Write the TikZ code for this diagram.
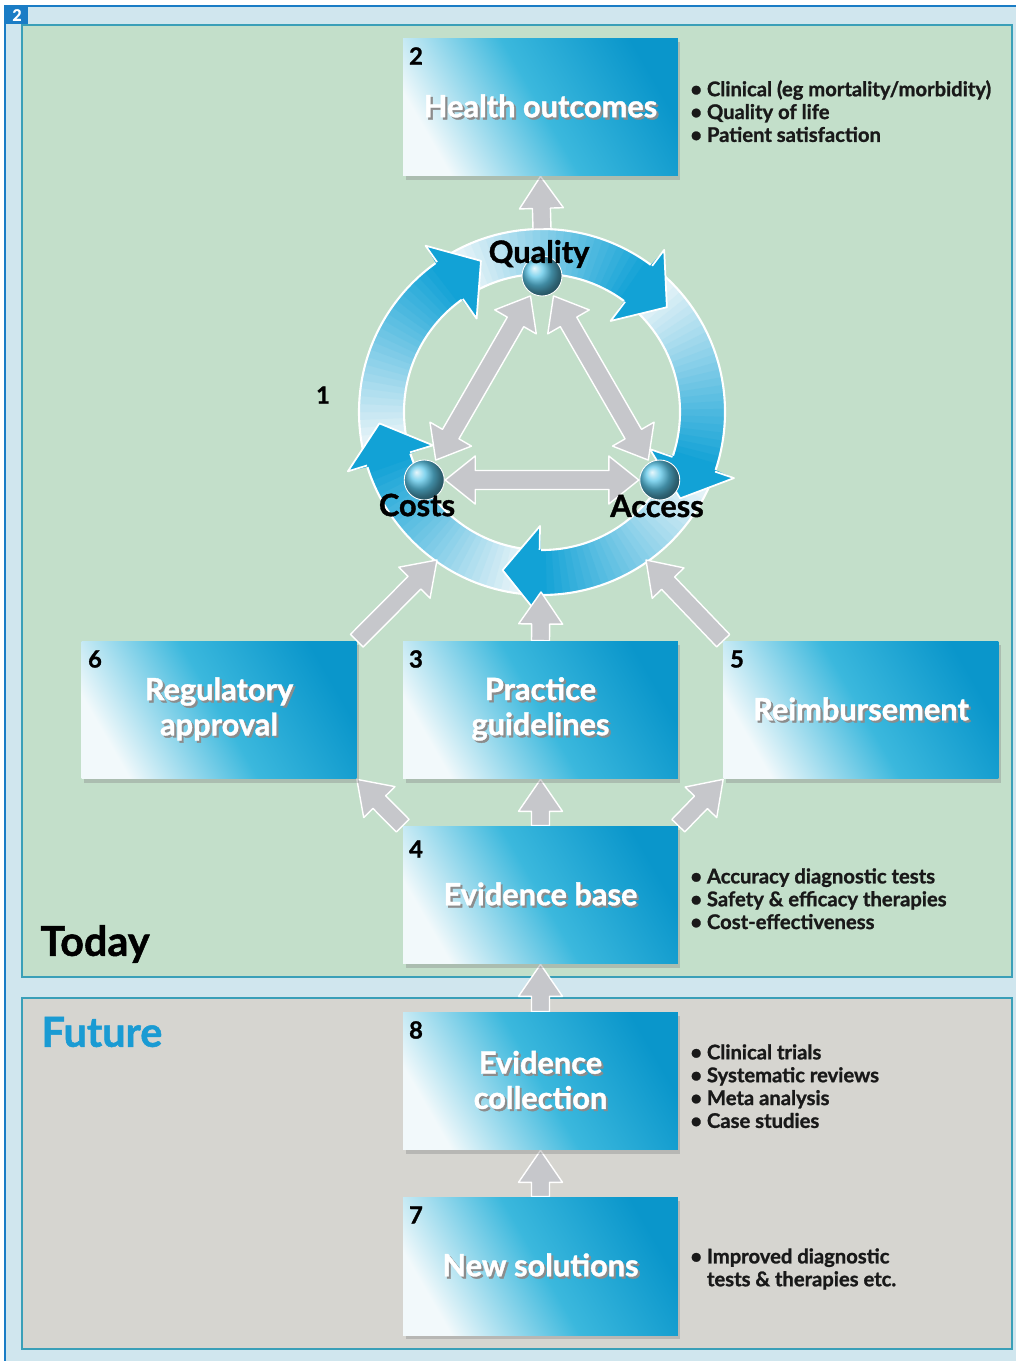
\documentclass[tikz,border=0pt]{standalone}
\usepackage{fontspec}
\setmainfont{Lato}[BoldFeatures={FakeBold=1.2}]
\usetikzlibrary{calc,shadows,backgrounds}

\definecolor{outerbg}{HTML}{D0E6EE}
\definecolor{frameblue}{HTML}{1A7CC5}
\definecolor{todaybg}{HTML}{C3DFCA}
\definecolor{futurebg}{HTML}{D6D5D0}
\definecolor{panelline}{HTML}{3A9FB8}
\definecolor{boxlight}{HTML}{F2F9FB}
\definecolor{boxmid}{HTML}{3BB8DD}
\definecolor{boxdark}{HTML}{0A96CB}
\definecolor{ringblue}{HTML}{12A2D6}
\definecolor{ringlight}{HTML}{E3F2F7}
\definecolor{ballblue}{HTML}{5CC6E8}
\definecolor{arrowgray}{HTML}{C6C7CB}
\definecolor{futureblue}{HTML}{1A9BD3}

\tikzset{
	panel/.style={draw=panelline, line width=1.2pt},
	stepbox/.style={rectangle, minimum width=5.5cm, minimum height=2.76cm, inner sep=0pt,
		left color=boxlight, right color=boxdark, middle color=boxmid, shading angle=120,
		drop shadow={opacity=0.35, shadow xshift=0.05cm, shadow yshift=-0.08cm},
		text=white, font=\fontsize{17.5}{20}\selectfont\bfseries, align=center},
	boxnum/.style={font=\fontsize{13.5}{15}\selectfont\bfseries, text=black},
	bullets/.style={anchor=north west, align=left, inner sep=0pt,
		font=\fontsize{11.5}{13}\selectfont\bfseries, text=black!90},
	ringlabel/.style={font=\fontsize{17.5}{19}\selectfont\bfseries, text=black},
	sphere/.style={circle, minimum size=0.8cm, inner sep=0pt, ball color=ballblue, draw=white, line width=0.5pt},
	blockarrow/.style={fill=arrowgray, draw=white, line width=0.8pt, line join=round},
}

% white text with a dark offset copy behind it
\newcommand\shd[1]{\makebox[0pt][l]{\hspace{1.2pt}\raisebox{-1.2pt}{\color{black!45}#1}}#1}

% wide gray arrow from #1 to #2
\newcommand\grayarrow[2]{%
	\path (#1) coordinate (ga0) (#2) coordinate (ga1);
	\path ($(ga1)!0.64cm!(ga0)$) coordinate (gah);
	\filldraw[blockarrow] ($(ga0)!0.18cm!90:(ga1)$) -- ($(gah)!0.18cm!90:(ga1)$) -- ($(gah)!0.44cm!90:(ga1)$) -- (ga1)
		-- ($(gah)!0.44cm!-90:(ga1)$) -- ($(gah)!0.18cm!-90:(ga1)$) -- ($(ga0)!0.18cm!-90:(ga1)$) -- cycle;
}

% wide gray arrow with two heads
\newcommand\twoarrow[2]{%
	\path (#1) coordinate (ta0) (#2) coordinate (ta1);
	\path ($(ta0)!0.6cm!(ta1)$) coordinate (tah0) ($(ta1)!0.6cm!(ta0)$) coordinate (tah1);
	\filldraw[blockarrow] (ta0) -- ($(tah0)!0.48cm!90:(ta1)$) -- ($(tah0)!0.19cm!90:(ta1)$) -- ($(tah1)!0.19cm!90:(ta1)$)
		-- ($(tah1)!0.48cm!90:(ta1)$) -- (ta1) -- ($(tah1)!0.48cm!-90:(ta1)$) -- ($(tah1)!0.19cm!-90:(ta1)$)
		-- ($(tah0)!0.19cm!-90:(ta1)$) -- ($(tah0)!0.48cm!-90:(ta1)$) -- cycle;
}

\begin{document}
\begin{tikzpicture}[x=0.02cm, y=-0.02cm]
	\useasboundingbox (0,0) rectangle (1016,1361);

	\node[stepbox] (ho) at (540.5,107) {\shd{Health outcomes}};
	\node[stepbox] (ra) at (219,710) {\shd{Regulatory}\\\shd{approval}};
	\node[stepbox] (pg) at (540.5,710) {\shd{Practice}\\\shd{guidelines}};
	\node[stepbox] (rb) at (861,710) {\shd{Reimbursement}};
	\node[stepbox] (eb) at (540.5,895) {\shd{Evidence base}};
	\node[stepbox] (ec) at (540.5,1081) {\shd{Evidence}\\\shd{collection}};
	\node[stepbox] (ns) at (540.5,1266) {\shd{New solutions}};

	\begin{scope}[shift={(542,412)}, yscale=-1]
		\node[sphere] (qball) at (90:136) {};
		\node[sphere] (cball) at (210:136) {};
		\node[sphere] (aball) at (330:136) {};
	\end{scope}

	\begin{scope}[on background layer]
		\fill[white] (0,0) rectangle (1016,1361);
		\fill[outerbg] (5,6) rectangle (1016,1361);
		\draw[frameblue, line width=1pt] (1016,6) -- (5,6) -- (5,1361);
		\filldraw[panel, fill=todaybg] (22,25) rectangle (1012,977);
		\filldraw[panel, fill=futurebg] (22,998) rectangle (1012,1349);

		% cycle ring
		\begin{scope}[shift={(542,412)}, yscale=-1]
			\fill[ringlight, even odd rule] (0,0) circle[radius=183] (0,0) circle[radius=138];
			\foreach \t in {112,40,-32,-104,-176}{
				\foreach \i in {0,...,25}{
					\pgfmathsetmacro\aa{\t+78-\i*2.5}
					\pgfmathtruncatemacro\p{100*\i/25}
					\fill[ringblue!\p!ringlight] (\aa:138) arc[start angle=\aa, end angle=\aa-3, radius=138]
						-- ({\aa-3}:183) arc[start angle=\aa-3, end angle=\aa, radius=183] -- cycle;
				}
			}
			\draw[white, line width=1.2pt] (0,0) circle[radius=183] (0,0) circle[radius=138];
			\foreach \t in {112,40,-32,-104,-176}{
				\fill[ringblue] ({\t+13.5}:138) -- ({\t+13}:114) -- (\t:163) -- ({\t+13}:203) -- ({\t+13.5}:183) -- cycle;
				\draw[white, line width=1pt, line join=round] ({\t+13}:138) -- ({\t+13}:114) -- (\t:163) -- ({\t+13}:203) -- ({\t+13}:183);
			}
		\end{scope}

		\twoarrow{$(qball)!0.46cm!(cball)$}{$(cball)!0.46cm!(qball)$}
		\twoarrow{$(qball)!0.46cm!(aball)$}{$(aball)!0.46cm!(qball)$}
		\twoarrow{$(cball)!0.42cm!(aball)$}{$(aball)!0.42cm!(cball)$}

		\coordinate (ringtop) at (542,229);
		\coordinate (ringbot) at (541,592);
		\coordinate (ringsw) at (437,560);
		\coordinate (ringse) at (646,560);
		\grayarrow{ringtop}{ho.south}
		\grayarrow{pg.north}{ringbot}
		\grayarrow{ra.north east}{ringsw}
		\grayarrow{rb.north west}{ringse}
		\grayarrow{eb.north west}{ra.south east}
		\grayarrow{eb.north}{pg.south}
		\grayarrow{eb.north east}{rb.south west}
		\grayarrow{ec.north}{eb.south}
		\grayarrow{ns.north}{ec.south}
	\end{scope}

	\node[fill=frameblue, text=white, font=\fontsize{9}{10}\selectfont\bfseries, minimum width=0.46cm, minimum height=0.36cm, inner sep=0pt] (fig) at (17,15) {2};

	\node[ringlabel] (qlab) at (539,254) {Quality};
	\node[ringlabel] (clab) at (417,505) {Costs};
	\node[ringlabel] (alab) at (657,506) {Access};

	\node[boxnum] (n1) at (323,395) {1};
	\node[boxnum] (n2) at (416,56) {2};
	\node[boxnum] (n6) at (95,659) {6};
	\node[boxnum] (n3) at (416,659) {3};
	\node[boxnum] (n5) at (737,659) {5};
	\node[boxnum] (n4) at (416,849) {4};
	\node[boxnum] (n8) at (416,1030) {8};
	\node[boxnum] (n7) at (416,1215) {7};

	\node[bullets] (hol) at (690,80) {\textbullet\ Clinical (eg mortality/morbidity)\\\textbullet\ Quality of life\\\textbullet\ Patient satisfaction};
	\node[bullets] (ebl) at (690,868) {\textbullet\ Accuracy diagnostic tests\\\textbullet\ Safety \& efficacy therapies\\\textbullet\ Cost-effectiveness};
	\node[bullets] (ecl) at (690,1044) {\textbullet\ Clinical trials\\\textbullet\ Systematic reviews\\\textbullet\ Meta analysis\\\textbullet\ Case studies};
	\node[bullets] (nsl) at (690,1248) {\textbullet\ Improved diagnostic\\\phantom{\textbullet\ }tests \& therapies etc.};

	\node[font=\fontsize{23.5}{26}\selectfont\bfseries, text=black] (today) at (95,944) {Today};
	\node[font=\fontsize{23.5}{26}\selectfont\bfseries, text=futureblue] (future) at (102,1032) {Future};
\end{tikzpicture}
\end{document}
